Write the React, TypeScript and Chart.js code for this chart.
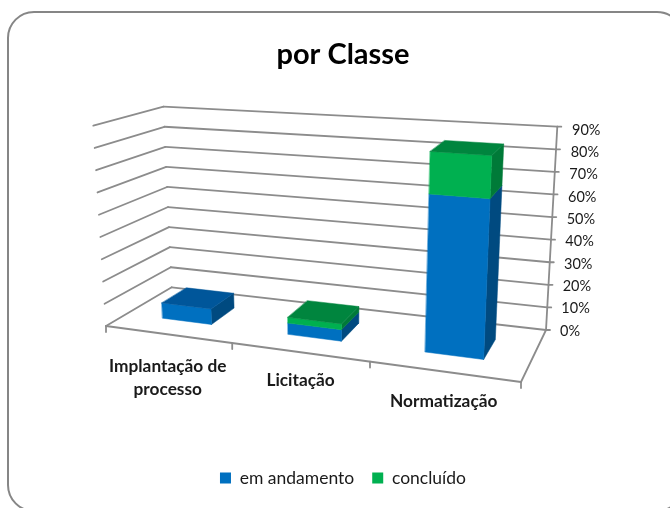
import React, { useEffect, useRef } from "react";
import { Chart, registerables } from "chart.js";

Chart.register(...registerables);

const categories: (string | string[])[] = [["Implantação de", "processo"], "Licitação", "Normatização"];
const emAndamento = [7, 5, 67];
const concluido = [0, 2.5, 18];
const tickStep = 10;
const axisMax = 90;

const FONT = "Lato, Carlito, Calibri, sans-serif";
const BLUE = { front: "#0070C0", side: "#004A80", top: "#00569A" };
const GREEN = { front: "#00B050", side: "#007A38", top: "#00853E" };
const LINE = "#8C8C8C";

// projected corners of the 3D box: floor then ceiling
const FL0 = [106, 326], FR0 = [521, 382], BL0 = [171.7, 287.3], BR0 = [546, 330];
const FL1 = [93.3, 125.7], FR1 = [532, 156], BL1 = [163.5, 106.7], BR1 = [557.3, 126.7];
const PERSPECTIVE = 1.144;
const BAR_DEPTH: [number, number] = [0.32, 0.715];
const LABEL_SHIFT = [[0, 32], [1, 28], [0, 29.5]];

const lerp = (a: number[], b: number[], t: number) => [a[0] + (b[0] - a[0]) * t, a[1] + (b[1] - a[1]) * t];
const warp = (u: number) => (u <= 0 ? 0 : u / (u + PERSPECTIVE * (1 - u)));
function P(u: number, d: number, h: number) {
  const s = warp(u);
  const p0 = lerp(lerp(FL0, FR0, s), lerp(BL0, BR0, s), d);
  const p1 = lerp(lerp(FL1, FR1, s), lerp(BL1, BR1, s), d);
  return lerp(p0, p1, h);
}

function poly(ctx: CanvasRenderingContext2D, pts: number[][], color: string) {
  ctx.beginPath();
  pts.forEach((p, i) => (i ? ctx.lineTo(p[0], p[1]) : ctx.moveTo(p[0], p[1])));
  ctx.closePath();
  ctx.fillStyle = color;
  ctx.strokeStyle = color;
  ctx.lineWidth = 0.5;
  ctx.fill();
  ctx.stroke();
}

function seg(ctx: CanvasRenderingContext2D, a: number[], b: number[]) {
  ctx.beginPath();
  ctx.moveTo(a[0], a[1]);
  ctx.lineTo(b[0], b[1]);
  ctx.stroke();
}

const frame = {
  id: "frame",
  beforeDraw(chart: any) {
    const { ctx } = chart;
    ctx.save();
    ctx.fillStyle = "#fff";
    ctx.fillRect(0, 0, chart.width, chart.height);
    ctx.beginPath();
    ctx.roundRect(8, 12, 675, 499, 26);
    ctx.strokeStyle = "#868686";
    ctx.lineWidth = 2;
    ctx.stroke();
    ctx.restore();
  },
};

const box3d = {
  id: "box3d",
  beforeDatasetsDraw(chart: any) {
    const { ctx, chartArea: ca, scales } = chart;
    const y = scales.y;
    const hOf = (py: number) => (ca.bottom - py) / (ca.bottom - ca.top);
    const uOf = (px: number) => (px - ca.left) / (ca.right - ca.left);
    ctx.save();
    ctx.strokeStyle = LINE;
    ctx.lineWidth = 1.8;
    ctx.lineCap = "round";
    ctx.lineJoin = "round";
    // walls and tick marks
    y.ticks.forEach((t: any) => {
      const h = hOf(y.getPixelForValue(t.value));
      const a = P(0, 0, h), b = P(0, 1, h), c = P(1, 1, h);
      seg(ctx, a, b);
      seg(ctx, b, c);
      seg(ctx, c, [c[0] + 4, c[1]]);
    });
    seg(ctx, P(1, 1, 0), P(1, 1, 1));
    // floor
    seg(ctx, P(0, 0, 0), P(1, 0, 0));
    seg(ctx, P(1, 0, 0), P(1, 1, 0));
    for (let i = 0; i <= categories.length; i++) {
      const p = P(i / categories.length, 0, 0);
      seg(ctx, p, [p[0], p[1] + 6]);
    }
    // value labels
    ctx.fillStyle = "#1a1a1a";
    ctx.font = `14.5px ${FONT}`;
    ctx.textAlign = "left";
    ctx.textBaseline = "middle";
    y.ticks.forEach((t: any) => {
      const h = hOf(y.getPixelForValue(t.value));
      ctx.fillText(t.label, 560 + 12 * h, 331 - 201 * h);
    });
    // category labels
    ctx.font = `bold 17.3px ${FONT}`;
    ctx.textAlign = "center";
    const x = scales.x;
    categories.forEach((c, i) => {
      const p = P(uOf(x.getPixelForTick(i)), 0, 0);
      const lines = Array.isArray(c) ? c : [c];
      lines.forEach((l, j) => ctx.fillText(l, p[0] + LABEL_SHIFT[i][0], p[1] + LABEL_SHIFT[i][1] + j * 23));
    });
    // bars, left to right and bottom to top
    const [d0, d1] = BAR_DEPTH;
    const palette = [BLUE, GREEN];
    categories.forEach((_, i) => {
      const metas = chart.getSortedVisibleDatasetMetas();
      let last = -1;
      metas.forEach((m: any, k: number) => {
        if (Math.abs(m.data[i].base - m.data[i].y) > 0) last = k;
      });
      metas.forEach((m: any, k: number) => {
        const el = m.data[i];
        const hb = hOf(el.base), ht = hOf(el.y);
        if (ht - hb <= 0) return;
        const ul = uOf(el.x - el.width / 2), ur = uOf(el.x + el.width / 2);
        const col = palette[k];
        poly(ctx, [P(ur, d0, hb), P(ur, d1, hb), P(ur, d1, ht), P(ur, d0, ht)], col.side);
        poly(ctx, [P(ul, d0, hb), P(ur, d0, hb), P(ur, d0, ht), P(ul, d0, ht)], col.front);
        if (k === last) {
          poly(ctx, [P(ul, d0, ht), P(ur, d0, ht), P(ur, d1, ht), P(ul, d1, ht)], col.top);
        }
      });
    });
    ctx.restore();
    return false;
  },
};

export default function App() {
  const ref = useRef<HTMLCanvasElement>(null);
  useEffect(() => {
    const chart = new Chart(ref.current!, {
      type: "bar",
      data: {
        labels: categories as any,
        datasets: [
          { label: "em andamento", data: emAndamento, backgroundColor: BLUE.front, categoryPercentage: 0.4, barPercentage: 1 },
          { label: "concluído", data: concluido, backgroundColor: GREEN.front, categoryPercentage: 0.4, barPercentage: 1 },
        ],
      },
      options: {
        responsive: false,
        animation: false,
        layout: { padding: { left: 16, right: 0, top: 0, bottom: 11.25 } },
        scales: {
          x: {
            stacked: true,
            grid: { display: false },
            border: { display: false },
            ticks: { display: false },
            afterFit: (s: any) => { s.height = 121.25; },
          },
          y: {
            stacked: true,
            position: "right",
            min: 0,
            max: axisMax,
            grid: { display: false },
            border: { display: false },
            ticks: { display: false, stepSize: tickStep, callback: (v: any) => `${v}%` },
            afterFit: (s: any) => { s.width = 124; },
          },
        },
        plugins: {
          tooltip: { enabled: false },
          title: {
            display: true,
            text: "por Classe",
            color: "#000",
            font: { family: FONT, size: 29, weight: "bold" },
            padding: { top: 37.6, bottom: 54.3 },
          },
          legend: {
            position: "bottom",
            labels: {
              boxWidth: 11,
              boxHeight: 11,
              padding: 18,
              color: "#1a1a1a",
              font: { family: FONT, size: 17.5 },
            },
          },
        },
      },
      plugins: [frame, box3d],
    } as any);
    return () => chart.destroy();
  }, []);
  return (
    <div style={{ position: "fixed", left: 0, top: 0, width: 670, height: 508, overflow: "hidden" }}>
      <canvas ref={ref} width={670} height={508} style={{ display: "block" }} />
    </div>
  );
}
